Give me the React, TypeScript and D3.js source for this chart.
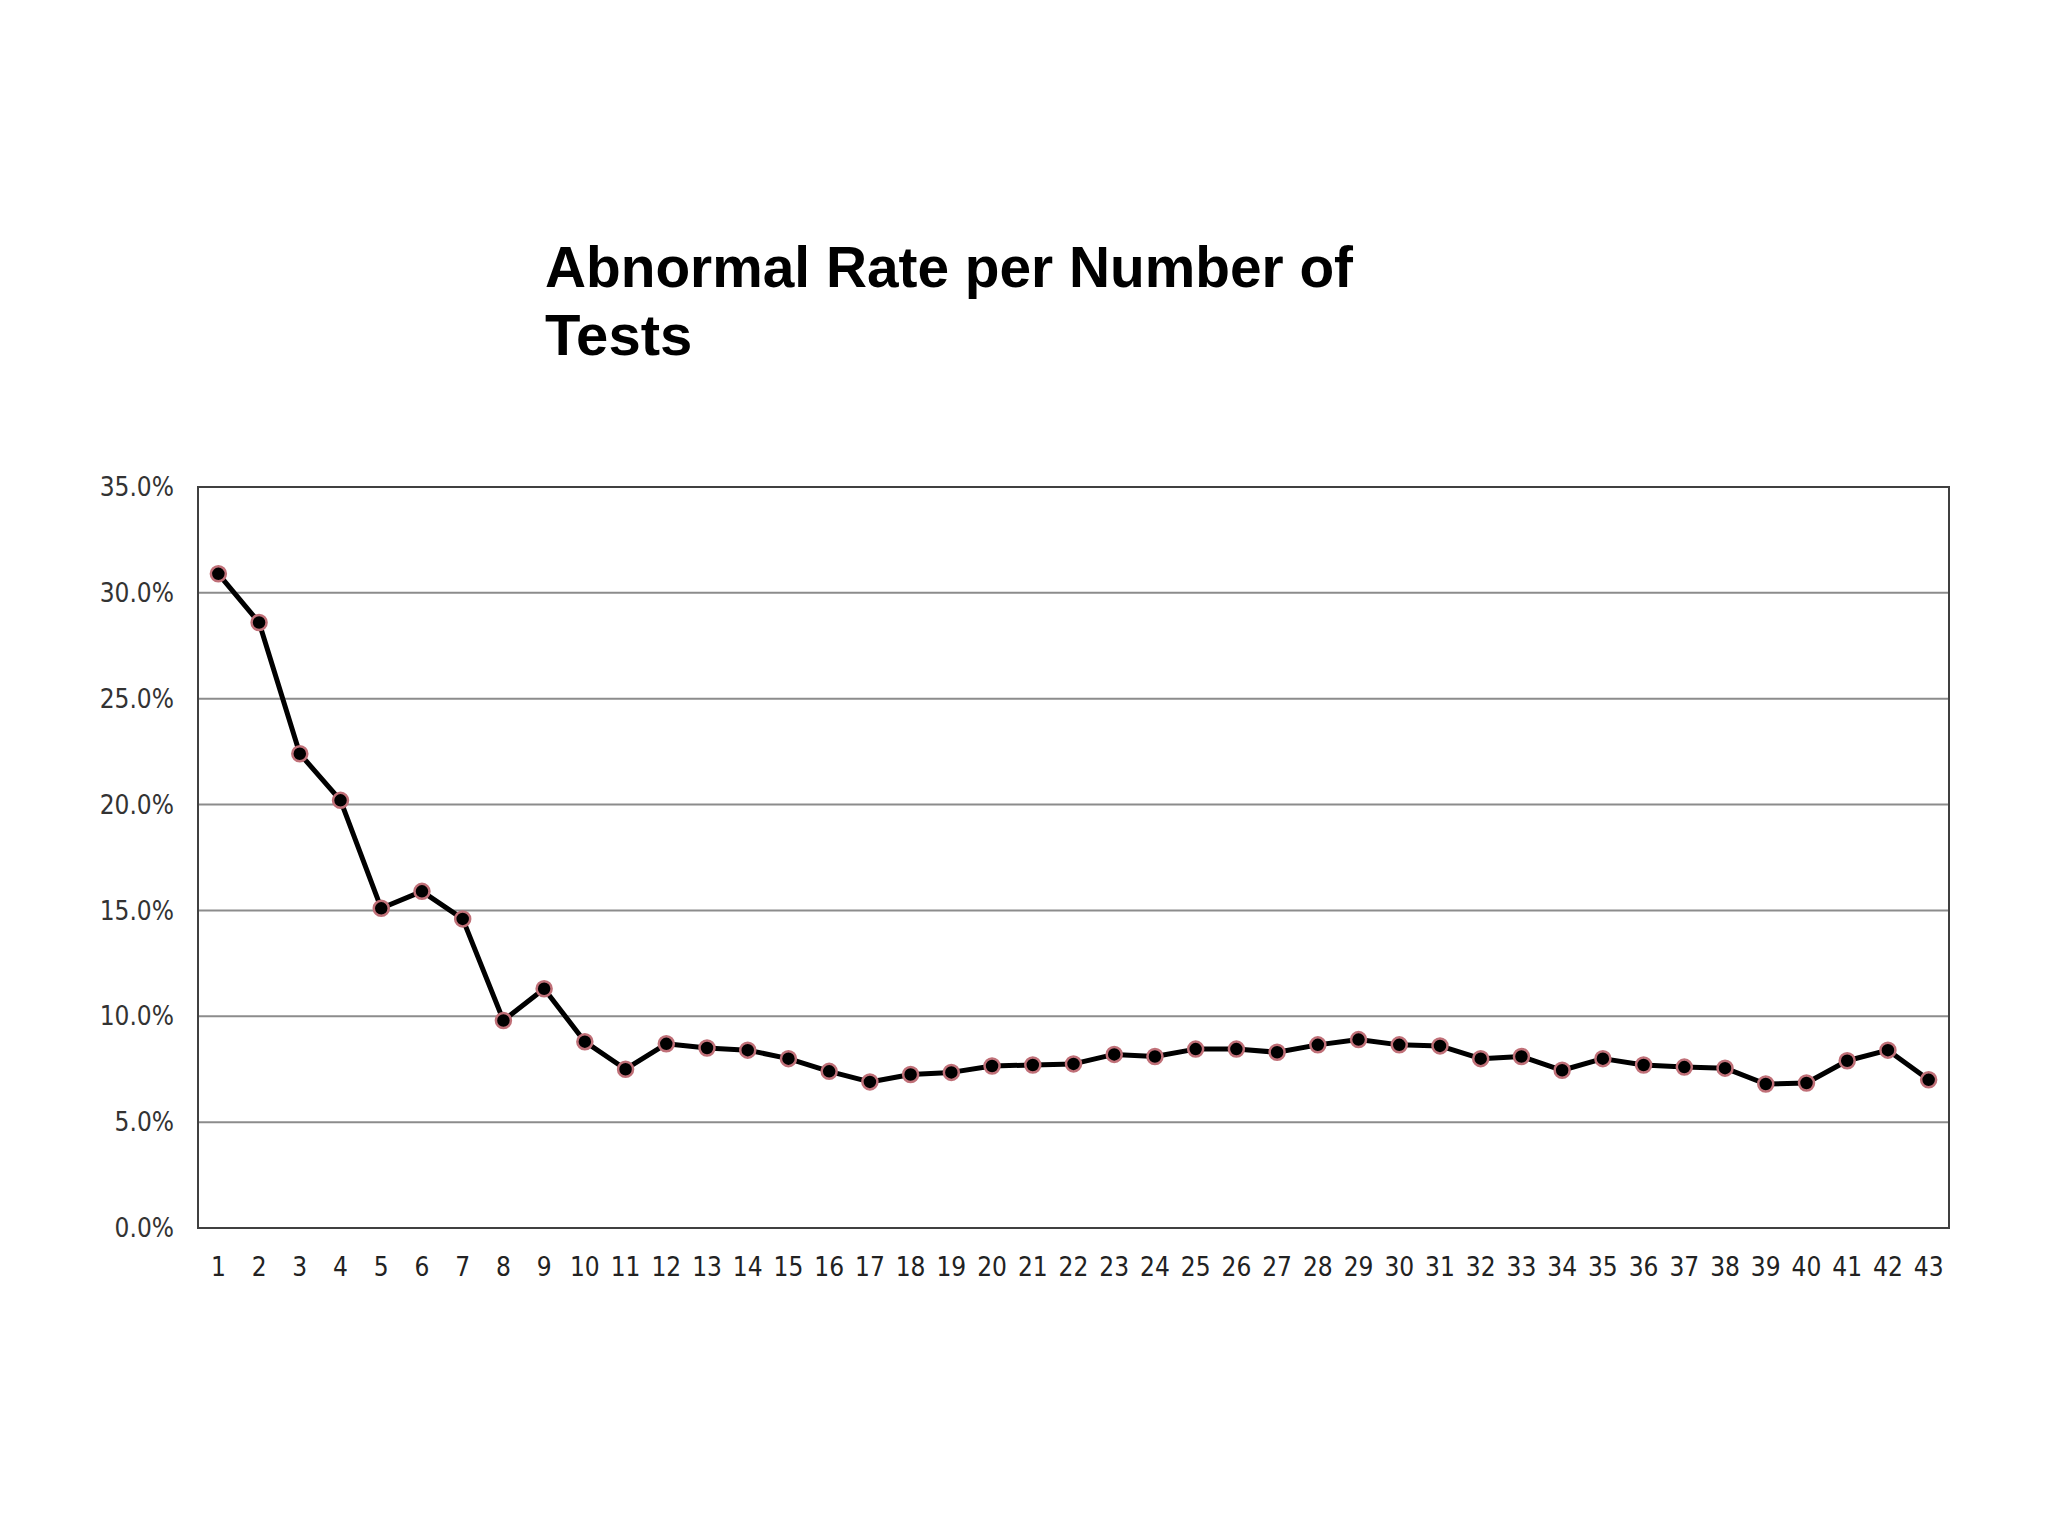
import { scaleBand, scaleLinear, line } from 'd3';

const WIDTH = 2048;
const HEIGHT = 1536;
const MARGIN = { top: 487, right: 99, bottom: 308, left: 198 };

const TITLE_LINES = ['Abnormal Rate per Number of', 'Tests'];

// number of tests 1..43
const CATEGORIES = [
  '1', '2', '3', '4', '5', '6', '7', '8', '9', '10',
  '11', '12', '13', '14', '15', '16', '17', '18', '19', '20',
  '21', '22', '23', '24', '25', '26', '27', '28', '29', '30',
  '31', '32', '33', '34', '35', '36', '37', '38', '39', '40',
  '41', '42', '43',
];

// abnormal rate, percent
const RATES = [
  30.9, 28.6, 22.4, 20.2, 15.1, 15.9, 14.6, 9.8, 11.3, 8.8,
  7.5, 8.7, 8.5, 8.4, 8.0, 7.4, 6.9, 7.25, 7.35, 7.65,
  7.7, 7.75, 8.2, 8.1, 8.45, 8.45, 8.3, 8.65, 8.9, 8.65,
  8.6, 8.0, 8.1, 7.45, 8.0, 7.7, 7.6, 7.55, 6.8, 6.85,
  7.9, 8.4, 7.0,
];

const Y_TICKS = [0, 5, 10, 15, 20, 25, 30, 35];

const LABEL_FONT = '"Liberation Sans Narrow", "DejaVu Sans Condensed", Roboto, sans-serif';

export default function App() {
  const innerW = WIDTH - MARGIN.left - MARGIN.right;
  const innerH = HEIGHT - MARGIN.top - MARGIN.bottom;

  const xScale = scaleBand<string>().domain(CATEGORIES).range([0, innerW]);
  const yScale = scaleLinear().domain([0, 35]).range([innerH, 0]);

  const cx = (i: number) => (xScale(CATEGORIES[i]) ?? 0) + xScale.bandwidth() / 2;

  const lineGen = line<number>()
    .x((_, i) => cx(i))
    .y(d => yScale(d));

  const pathD = lineGen(RATES) ?? '';

  return (
    <svg
      width={WIDTH}
      height={HEIGHT}
      style={{ position: 'absolute', left: 0, top: 0, background: '#fff' }}
    >
      {/* title */}
      <g fontFamily='"Liberation Sans", Arial, sans-serif' fontWeight="bold" fontSize={58} fill="#000">
        <text x={545} y={287} textLength={808} lengthAdjust="spacingAndGlyphs">{TITLE_LINES[0]}</text>
        <text x={545} y={355}>{TITLE_LINES[1]}</text>
      </g>

      <g transform={`translate(${MARGIN.left},${MARGIN.top})`}>
        {/* gridlines */}
        {Y_TICKS.filter(t => t > 0 && t < 35).map(t => (
          <line
            key={t}
            x1={0} x2={innerW}
            y1={yScale(t)} y2={yScale(t)}
            stroke="#8c8c8c"
            strokeWidth={2}
          />
        ))}

        {/* plot frame */}
        <rect x={0} y={0} width={innerW} height={innerH} fill="none" stroke="#404040" strokeWidth={2} />

        {/* y labels */}
        {Y_TICKS.map(t => (
          <text
            key={t}
            x={-24}
            y={yScale(t)}
            dy="0.35em"
            textAnchor="end"
            fontFamily={LABEL_FONT}
            fontSize={26}
            fill="#333"
          >
            {t.toFixed(1)}%
          </text>
        ))}

        {/* x labels */}
        {CATEGORIES.map((c, i) => (
          <text
            key={c}
            x={cx(i)}
            y={innerH + 48}
            textAnchor="middle"
            fontFamily={LABEL_FONT}
            fontSize={26}
            fill="#222"
          >
            {c}
          </text>
        ))}

        {/* series */}
        <path d={pathD} fill="none" stroke="#000" strokeWidth={5} strokeLinejoin="round" />
        {RATES.map((r, i) => (
          <circle
            key={i}
            cx={cx(i)}
            cy={yScale(r)}
            r={7.5}
            fill="#000"
            stroke="#c07078"
            strokeWidth={2.5}
          />
        ))}
      </g>
    </svg>
  );
}
